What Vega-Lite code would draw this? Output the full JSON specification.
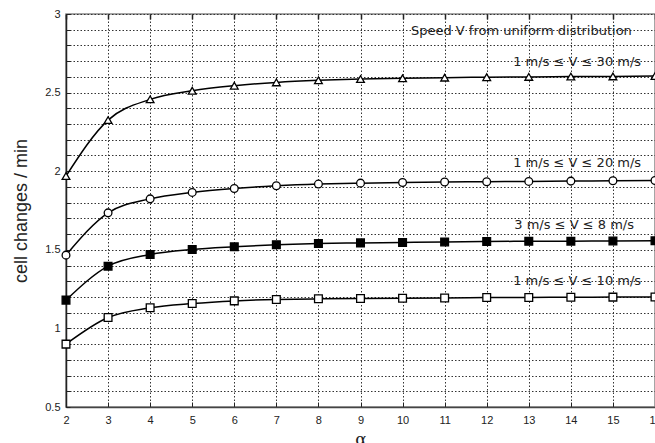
{
  "$schema": "https://vega.github.io/schema/vega-lite/v6.json",
  "autosize": {"type": "none"},
  "padding": {"left": 66, "top": 14, "right": 0, "bottom": 36},
  "width": 589,
  "height": 393,
  "background": "white",
  "config": {
    "font": "Liberation Sans",
    "view": {"stroke": "#888888", "strokeWidth": 1.5},
    "axis": {"labelFont": "Liberation Sans", "titleFont": "Liberation Sans", "labelColor": "#222", "titleColor": "#222"}
  },
  "datasets": {
    "curves": [
      {"alpha": 2, "v": 1.969, "series": "1-30"}, {"alpha": 3, "v": 2.325, "series": "1-30"}, {"alpha": 4, "v": 2.457, "series": "1-30"}, {"alpha": 5, "v": 2.512, "series": "1-30"}, {"alpha": 6, "v": 2.544, "series": "1-30"}, {"alpha": 7, "v": 2.565, "series": "1-30"}, {"alpha": 8, "v": 2.578, "series": "1-30"}, {"alpha": 9, "v": 2.586, "series": "1-30"}, {"alpha": 10, "v": 2.591, "series": "1-30"}, {"alpha": 11, "v": 2.595, "series": "1-30"}, {"alpha": 12, "v": 2.598, "series": "1-30"}, {"alpha": 13, "v": 2.600, "series": "1-30"}, {"alpha": 14, "v": 2.602, "series": "1-30"}, {"alpha": 15, "v": 2.603, "series": "1-30"}, {"alpha": 16, "v": 2.605, "series": "1-30"},
      {"alpha": 2, "v": 1.466, "series": "1-20"}, {"alpha": 3, "v": 1.735, "series": "1-20"}, {"alpha": 4, "v": 1.824, "series": "1-20"}, {"alpha": 5, "v": 1.865, "series": "1-20"}, {"alpha": 6, "v": 1.890, "series": "1-20"}, {"alpha": 7, "v": 1.907, "series": "1-20"}, {"alpha": 8, "v": 1.918, "series": "1-20"}, {"alpha": 9, "v": 1.924, "series": "1-20"}, {"alpha": 10, "v": 1.928, "series": "1-20"}, {"alpha": 11, "v": 1.931, "series": "1-20"}, {"alpha": 12, "v": 1.933, "series": "1-20"}, {"alpha": 13, "v": 1.935, "series": "1-20"}, {"alpha": 14, "v": 1.937, "series": "1-20"}, {"alpha": 15, "v": 1.939, "series": "1-20"}, {"alpha": 16, "v": 1.941, "series": "1-20"},
      {"alpha": 2, "v": 1.180, "series": "3-8"}, {"alpha": 3, "v": 1.396, "series": "3-8"}, {"alpha": 4, "v": 1.470, "series": "3-8"}, {"alpha": 5, "v": 1.502, "series": "3-8"}, {"alpha": 6, "v": 1.519, "series": "3-8"}, {"alpha": 7, "v": 1.532, "series": "3-8"}, {"alpha": 8, "v": 1.540, "series": "3-8"}, {"alpha": 9, "v": 1.544, "series": "3-8"}, {"alpha": 10, "v": 1.547, "series": "3-8"}, {"alpha": 11, "v": 1.550, "series": "3-8"}, {"alpha": 12, "v": 1.553, "series": "3-8"}, {"alpha": 13, "v": 1.554, "series": "3-8"}, {"alpha": 14, "v": 1.555, "series": "3-8"}, {"alpha": 15, "v": 1.556, "series": "3-8"}, {"alpha": 16, "v": 1.557, "series": "3-8"},
      {"alpha": 2, "v": 0.900, "series": "1-10"}, {"alpha": 3, "v": 1.069, "series": "1-10"}, {"alpha": 4, "v": 1.131, "series": "1-10"}, {"alpha": 5, "v": 1.158, "series": "1-10"}, {"alpha": 6, "v": 1.175, "series": "1-10"}, {"alpha": 7, "v": 1.184, "series": "1-10"}, {"alpha": 8, "v": 1.188, "series": "1-10"}, {"alpha": 9, "v": 1.190, "series": "1-10"}, {"alpha": 10, "v": 1.192, "series": "1-10"}, {"alpha": 11, "v": 1.194, "series": "1-10"}, {"alpha": 12, "v": 1.196, "series": "1-10"}, {"alpha": 13, "v": 1.197, "series": "1-10"}, {"alpha": 14, "v": 1.198, "series": "1-10"}, {"alpha": 15, "v": 1.199, "series": "1-10"}, {"alpha": 16, "v": 1.200, "series": "1-10"}
    ],
    "labels": [
      {"alpha": 15.45, "v": 2.894, "text": "Speed V from uniform distribution"},
      {"alpha": 15.67, "v": 2.694, "text": "1 m/s ≤ V ≤ 30 m/s"},
      {"alpha": 15.67, "v": 2.052, "text": "1 m/s ≤ V ≤ 20 m/s"},
      {"alpha": 15.5, "v": 1.657, "text": "3 m/s ≤ V ≤ 8 m/s"},
      {"alpha": 15.67, "v": 1.300, "text": "1 m/s ≤ V ≤ 10 m/s"}
    ]
  },
  "resolve": {"axis": {"x": "independent"}},
  "layer": [
    {
      "data": {"name": "curves"},
      "mark": {"type": "line", "color": "black", "strokeWidth": 1.5, "interpolate": "monotone"},
      "encoding": {
        "x": {
          "field": "alpha", "type": "quantitative",
          "scale": {"domain": [2, 16], "nice": false, "zero": false},
          "axis": {
            "title": "α", "titleFont": "DejaVu Serif", "titleFontSize": 17, "titleFontWeight": "normal", "titlePadding": 6,
            "values": [2,3,4,5,6,7,8,9,10,11,12,13,14,15,16], "tickCount": 30, "format": "d",
            "labelFontSize": 11, "labelPadding": 12, "labelOverlap": false,
            "grid": true, "gridColor": "#333", "gridDash": [1.5, 2], "gridWidth": 1,
            "domainColor": "#444", "domainWidth": 1.5,
            "ticks": true, "tickSize": -5, "tickColor": "#222", "labelFlush": false
          }
        },
        "y": {
          "field": "v", "type": "quantitative",
          "scale": {"domain": [0.5, 3], "nice": false, "zero": false},
          "axis": {
            "title": "cell changes / min", "titleFontSize": 18, "titleFontWeight": "normal", "titlePadding": 14,
            "values": [0.5,0.6,0.7,0.8,0.9,1,1.1,1.2,1.3,1.4,1.5,1.6,1.7,1.8,1.9,2,2.1,2.2,2.3,2.4,2.5,2.6,2.7,2.8,2.9,3],
            "tickCount": 40,
            "labelExpr": "abs(datum.value*2 - round(datum.value*2)) < 0.001 ? format(datum.value, '~g') : ''",
            "labelFontSize": 11, "labelPadding": 10, "labelOverlap": false, "labelBound": false,
            "grid": true, "gridColor": "#333", "gridDash": [1.5, 2], "gridWidth": 1,
            "domainColor": "#222", "domainWidth": 1.5,
            "ticks": true, "tickSize": -4, "tickColor": "#222"
          }
        },
        "detail": {"field": "series"}
      }
    },
    {
      "data": {"name": "curves"},
      "mark": {"type": "point", "stroke": "black", "strokeWidth": 1.3, "size": 60, "opacity": 1},
      "encoding": {
        "x": {"field": "alpha", "type": "quantitative",
          "axis": {"orient": "top", "title": null, "labels": false, "grid": false, "domain": false,
                   "values": [2,3,4,5,6,7,8,9,10,11,12,13,14,15,16], "tickCount": 30,
                   "ticks": true, "tickSize": -5, "tickColor": "#222", "tickWidth": 1.5}},
        "y": {"field": "v", "type": "quantitative"},
        "shape": {"field": "series", "type": "nominal", "legend": null,
          "scale": {"domain": ["1-30", "1-20", "3-8", "1-10"], "range": ["triangle-up", "circle", "square", "square"]}},
        "fill": {"field": "series", "type": "nominal", "legend": null,
          "scale": {"domain": ["1-30", "1-20", "3-8", "1-10"], "range": ["white", "white", "black", "white"]}}
      }
    },
    {
      "data": {"name": "labels"},
      "mark": {"type": "text", "fontSize": 13, "color": "#222", "baseline": "middle", "align": "right", "font": "DejaVu Sans"},
      "encoding": {
        "x": {"field": "alpha", "type": "quantitative", "axis": null},
        "y": {"field": "v", "type": "quantitative"},
        "text": {"field": "text"}
      }
    }
  ]
}
